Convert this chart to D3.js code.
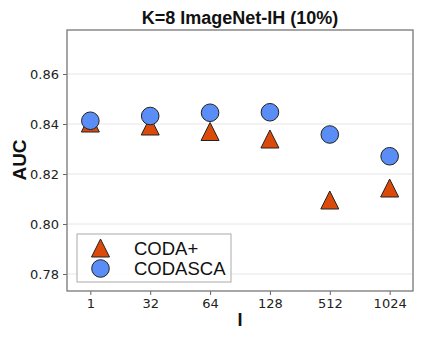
<!DOCTYPE html>
<html>
<head>
<meta charset="utf-8">
<script src="https://cdn.jsdelivr.net/npm/d3@7"></script>
<style>
  body { margin: 0; background: #fff; }
  svg { display: block; }
</style>
</head>
<body>
<div id="chart"></div>
<script>
"use strict";

// chart data
let chartTitle = "K=8 ImageNet-IH (10%)";
let categories = ["1", "32", "64", "128", "512", "1024"];
let codaPlus = [0.8404, 0.8392, 0.8370, 0.8340, 0.8096, 0.8144];
let codasca = [0.8413, 0.8432, 0.8445, 0.8447, 0.8358, 0.8271];
let yTicks = [0.78, 0.80, 0.82, 0.84, 0.86];
let seriesNames = ["CODA+", "CODASCA"];

let width = 423,
    height = 341;

let margin = { left: 67, right: 10, top: 30, bottom: 50 };

let triColor = "#dc4a0a";
let dotColor = "#5a8ef6";

let svg = d3.select("#chart").append("svg")
  .attr("width", width)
  .attr("height", height);

let xScale = d3.scalePoint()
  .domain(categories)
  .range([margin.left, width - margin.right])
  .padding(0.39);

let yScale = d3.scaleLinear()
  .domain([0.7732, 0.8776])
  .range([height - margin.bottom, margin.top]);

// grid lines
svg.append("g")
  .selectAll("line").data(yTicks)
  .enter().append("line")
    .attr("x1", margin.left)
    .attr("x2", width - margin.right)
    .attr("y1", d => yScale(d))
    .attr("y2", d => yScale(d))
    .attr("stroke", "#e6e6e6")
    .attr("stroke-width", 1);

// axes
let yAxis = svg.append("g")
  .attr("transform", `translate(${margin.left},0)`)
  .call(d3.axisLeft(yScale).tickValues(yTicks).tickFormat(d3.format(".2f")).tickSize(4).tickPadding(4));

let xAxis = svg.append("g")
  .attr("transform", `translate(0,${height - margin.bottom})`)
  .call(d3.axisBottom(xScale).tickSize(4).tickPadding(4));

[xAxis, yAxis].forEach(function(ax) {
  ax.select(".domain").remove();
  ax.selectAll(".tick line").attr("stroke", "#666");
  ax.selectAll(".tick text")
    .attr("fill", "#222")
    .style("font-family", "DejaVu Sans")
    .style("font-size", "13px");
});

// frame
svg.append("rect")
  .attr("x", margin.left)
  .attr("y", margin.top)
  .attr("width", width - margin.left - margin.right)
  .attr("height", height - margin.top - margin.bottom)
  .attr("fill", "none")
  .attr("stroke", "#777")
  .attr("stroke-width", 1.3);

let triangle = d3.symbol().type(d3.symbolTriangle).size(150);

// matplotlib '^' is centred on its bounding box, d3's triangle on its centroid
let triPath = function(s) {
  return `M0,${-s}L${s},${s}L${-s},${s}Z`;
};

// CODA+
svg.append("g")
  .selectAll("path").data(codaPlus)
  .enter().append("path")
    .attr("d", triPath(9))
    .attr("transform", (d, i) => `translate(${xScale(categories[i])},${yScale(d)})`)
    .attr("fill", triColor)
    .attr("stroke", "#222")
    .attr("stroke-width", 1);

// CODASCA
svg.append("g")
  .selectAll("circle").data(codasca)
  .enter().append("circle")
    .attr("cx", (d, i) => xScale(categories[i]))
    .attr("cy", d => yScale(d))
    .attr("r", 8.8)
    .attr("fill", dotColor)
    .attr("stroke", "#222")
    .attr("stroke-width", 1);

// legend
let legend = svg.append("g");

legend.append("rect")
  .attr("x", 77)
  .attr("y", 234)
  .attr("width", 154)
  .attr("height", 48)
  .attr("fill", "#fff")
  .attr("fill-opacity", 0.85)
  .attr("stroke", "#aaa")
  .attr("stroke-width", 1);

legend.append("path")
  .attr("d", triPath(9))
  .attr("transform", "translate(100.5,248)")
  .attr("fill", triColor)
  .attr("stroke", "#222");

legend.append("circle")
  .attr("cx", 100.5)
  .attr("cy", 268.5)
  .attr("r", 8.8)
  .attr("fill", dotColor)
  .attr("stroke", "#222");

legend.selectAll("text").data(seriesNames)
  .enter().append("text")
    .attr("x", 134)
    .attr("y", (d, i) => 254.5 + i * 20.5)
    .style("font-family", "Liberation Sans, Arial, sans-serif")
    .style("font-size", "18.5px")
    .attr("fill", "#111")
    .text(d => d);

// titles
svg.append("text")
  .attr("x", (margin.left + width - margin.right) / 2)
  .attr("y", 24)
  .attr("text-anchor", "middle")
  .style("font-family", "Liberation Sans, Arial, sans-serif")
  .style("font-weight", "bold")
  .style("font-size", "18px")
  .attr("fill", "#111")
  .text(chartTitle);

svg.append("text")
  .attr("transform", "translate(26,160) rotate(-90)")
  .attr("text-anchor", "middle")
  .style("font-family", "Liberation Sans, Arial, sans-serif")
  .style("font-weight", "bold")
  .style("font-size", "19px")
  .attr("fill", "#111")
  .text("AUC");

svg.append("text")
  .attr("x", (margin.left + width - margin.right) / 2)
  .attr("y", 326)
  .attr("text-anchor", "middle")
  .style("font-family", "Liberation Sans, Arial, sans-serif")
  .style("font-weight", "bold")
  .style("font-size", "18px")
  .attr("fill", "#111")
  .text("I");
</script>
</body>
</html>
